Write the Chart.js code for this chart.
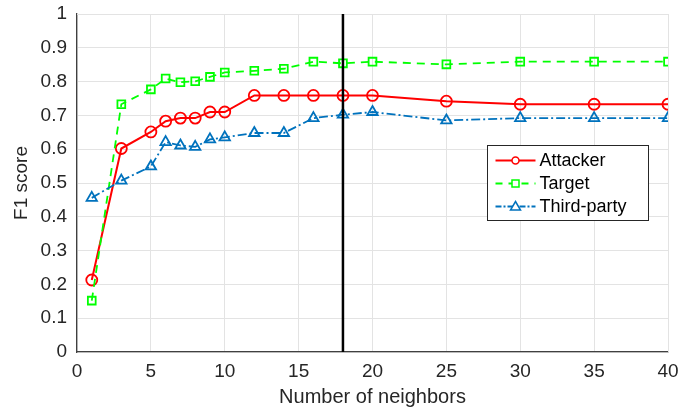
<!DOCTYPE html>
<html>
<head>
<meta charset="utf-8">
<script src="https://cdn.jsdelivr.net/npm/chart.js@4/dist/chart.umd.min.js"></script>
<style>
html,body{margin:0;padding:0;background:#fff;}
#wrap{width:694px;height:410px;position:relative;}
</style>
</head>
<body>
<div id="wrap"><canvas id="c" width="694" height="410"></canvas></div>
<script>
const neighbors = [1, 3, 5, 6, 7, 8, 9, 10, 12, 14, 16, 18, 20, 25, 30, 35, 40];
const attacker  = [0.213, 0.602, 0.651, 0.683, 0.692, 0.692, 0.710, 0.710, 0.759, 0.759, 0.759, 0.759, 0.759, 0.742, 0.733, 0.733, 0.733];
const target    = [0.152, 0.733, 0.777, 0.809, 0.798, 0.801, 0.814, 0.827, 0.832, 0.838, 0.859, 0.854, 0.859, 0.851, 0.859, 0.859, 0.859];
const thirdParty= [0.456, 0.507, 0.549, 0.621, 0.611, 0.607, 0.629, 0.635, 0.648, 0.648, 0.692, 0.702, 0.710, 0.685, 0.692, 0.692, 0.692];
const seriesNames = ['Attacker', 'Target', 'Third-party'];
const thresholdK = 18;
const xTicks = [0, 5, 10, 15, 20, 25, 30, 35, 40];
const yTicks = [0, 0.1, 0.2, 0.3, 0.4, 0.5, 0.6, 0.7, 0.8, 0.9, 1];

const FONT = '"Liberation Sans", Arial, Helvetica, sans-serif';
const pts = arr => neighbors.map((n, i) => ({x: n, y: arr[i]}));

const styles = [
  {color: '#ff0000', dash: [], width: 2, marker: 'circle', r: 5.5},
  {color: '#00ff00', dash: [8, 6], width: 1.8, marker: 'rect', r: 5.5},
  {color: '#0072bd', dash: [9, 3, 2, 3], width: 1.8, marker: 'triangle', r: 6}
];
const data = [attacker, target, thirdParty];

const datasets = data.map((arr, i) => ({
  label: seriesNames[i],
  data: pts(arr),
  borderColor: styles[i].color,
  backgroundColor: 'rgba(0,0,0,0)',
  borderWidth: styles[i].width,
  borderDash: styles[i].dash,
  pointStyle: styles[i].marker,
  pointRadius: styles[i].r,
  pointBorderWidth: 1.8,
  pointBorderColor: styles[i].color,
  pointBackgroundColor: 'rgba(0,0,0,0)',
  tension: 0,
  order: 3 - i
}));
datasets.push({
  label: 'threshold',
  data: [{x: thresholdK, y: 0}, {x: thresholdK, y: 1}],
  borderColor: '#000',
  borderWidth: 2.5,
  pointRadius: 0,
  order: 0
});

const innerLegend = {
  id: 'innerLegend',
  afterDraw(chart) {
    const ctx = chart.ctx;
    const x0 = 487.5, y0 = 145.5, w = 161, h = 75;
    ctx.save();
    ctx.fillStyle = '#fff';
    ctx.fillRect(x0, y0, w, h);
    ctx.strokeStyle = '#262626';
    ctx.lineWidth = 1;
    ctx.strokeRect(x0, y0, w, h);
    ctx.font = '18px ' + FONT;
    ctx.textBaseline = 'middle';
    for (let i = 0; i < 3; i++) {
      const y = y0 + 15 + i * 23;
      const s = styles[i];
      ctx.strokeStyle = s.color;
      ctx.lineWidth = s.width;
      ctx.setLineDash(i === 1 ? [7, 6] : (i === 2 ? [6, 2, 2, 2] : []));
      ctx.beginPath();
      ctx.moveTo(x0 + 8, y);
      ctx.lineTo(x0 + 48, y);
      ctx.stroke();
      ctx.setLineDash([]);
      ctx.lineWidth = 1.5;
      const cx = x0 + 28;
      if (i === 0) {
        ctx.fillStyle = '#fff';
        ctx.beginPath(); ctx.arc(cx, y, 3.5, 0, Math.PI * 2); ctx.fill(); ctx.stroke();
      } else if (i === 1) {
        ctx.fillStyle = '#fff';
        ctx.fillRect(cx - 3.5, y - 3.5, 7, 7);
        ctx.strokeRect(cx - 3.5, y - 3.5, 7, 7);
      } else {
        ctx.fillStyle = '#fff';
        ctx.beginPath();
        ctx.moveTo(cx, y - 5); ctx.lineTo(cx + 5, y + 3.5); ctx.lineTo(cx - 5, y + 3.5); ctx.closePath();
        ctx.fill(); ctx.stroke();
      }
      ctx.fillStyle = '#000';
      ctx.fillText(seriesNames[i], x0 + 52, y + 1);
    }
    ctx.restore();
  }
};

const frame = {
  id: 'frame',
  beforeDatasetsDraw(chart) {
    const {ctx, chartArea: a} = chart;
    ctx.save();
    ctx.strokeStyle = '#e3e3e3';
    ctx.lineWidth = 1;
    ctx.beginPath();
    ctx.moveTo(a.left, a.top + 0.5); ctx.lineTo(a.right + 0.5, a.top + 0.5); ctx.lineTo(a.right + 0.5, a.bottom);
    ctx.stroke();
    ctx.restore();
  }
};

new Chart(document.getElementById('c'), {
  type: 'line',
  data: {datasets},
  options: {
    responsive: false,
    animation: false,
    layout: {padding: {top: 14, right: 26, left: 0, bottom: 0}},
    plugins: {legend: {display: false}, tooltip: {enabled: false}},
    scales: {
      x: {
        type: 'linear', min: 0, max: 40,
        afterBuildTicks: s => { s.ticks = xTicks.map(v => ({value: v})); },
        afterFit: s => { s.height = 58; s.paddingRight = 0; s.paddingLeft = 0; },
        grid: {color: '#e3e3e3', lineWidth: 1, drawTicks: false},
        border: {color: '#404040', width: 1.3},
        ticks: {color: '#262626', font: {family: FONT, size: 19}, padding: 8, maxRotation: 0},
        title: {display: true, text: 'Number of neighbors', color: '#262626', font: {family: FONT, size: 20}, padding: {top: 0, bottom: 1}}
      },
      y: {
        min: 0, max: 1,
        afterBuildTicks: s => { s.ticks = yTicks.map(v => ({value: v})); },
        afterFit: s => { s.width = 77; s.paddingTop = 0; s.paddingBottom = 0; },
        grid: {color: '#e3e3e3', lineWidth: 1, drawTicks: false},
        border: {color: '#404040', width: 1.3},
        ticks: {color: '#262626', font: {family: FONT, size: 19}, padding: 10,
          callback: v => String(Math.round(v * 10) / 10)},
        title: {display: true, text: 'F1 score', color: '#262626', font: {family: FONT, size: 19}, padding: {top: 10, bottom: 4}}
      }
    }
  },
  plugins: [frame, innerLegend]
});
</script>
</body>
</html>
